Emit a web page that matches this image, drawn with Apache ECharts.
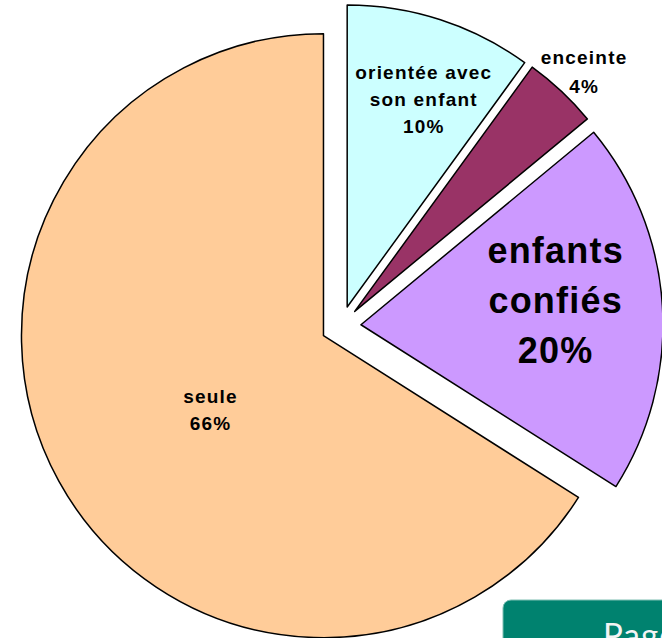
<!DOCTYPE html>
<html>
<head>
<meta charset="utf-8">
<script src="https://cdn.jsdelivr.net/npm/echarts@6/dist/echarts.min.js"></script>
<style>
  html, body { margin: 0; padding: 0; background: #ffffff; }
  #chart { width: 662px; height: 638px; }
  #chart svg text { letter-spacing: 1.2px; }
</style>
</head>
<body>
<div id="chart"></div>
<script>
// Slices, clockwise from 12 o'clock
const categories = ['orientée avec\nson enfant', 'enceinte', 'enfants\nconfiés', 'seule'];
const values = [10, 4, 20, 66];

// styles (not data)
const colors = ['#CCFFFF', '#993366', '#CC99FF', '#FFCC99'];
const labelSizes = [19, 19, 36, 19];
const labelLineHeights = [27, 29, 50, 27];
const labelShift = [[29, -61], [124, -127], [41, -15], [22, 0]];

const chart = echarts.init(document.getElementById('chart'), null, { renderer: 'svg' });

const data = categories.map((name, i) => ({
  name: name,
  value: values[i],
  selected: true,
  itemStyle: { color: colors[i] },
  label: {
    fontSize: labelSizes[i],
    lineHeight: labelLineHeights[i]
  }
}));

chart.setOption({
  animation: false,
  backgroundColor: '#ffffff',
  series: [{
    type: 'pie',
    center: [341, 326],
    radius: [0, 302],
    startAngle: 90,
    clockwise: true,
    selectedMode: 'multiple',
    selectedOffset: 20,
    avoidLabelOverlap: false,
    emphasis: { disabled: true },
    select: { itemStyle: { borderColor: '#000000', borderWidth: 1.5 } },
    itemStyle: { borderColor: '#000000', borderWidth: 1.5 },
    label: {
      show: true,
      position: 'inside',
      formatter: '{b}\n{d}%',
      color: '#000000',
      fontFamily: 'Liberation Sans, Arial, sans-serif',
      fontWeight: 'bold',
      align: 'center'
    },
    labelLine: { show: false },
    labelLayout: function (p) {
      const s = labelShift[p.dataIndex];
      return { dx: s[0], dy: s[1] };
    },
    data: data
  }],
  graphic: [
    {
      type: 'rect',
      shape: { x: 503, y: 600, width: 220, height: 80, r: 8 },
      style: { fill: '#00826F', stroke: '#7fbfb3', lineWidth: 1 },
      z: 100
    },
    {
      type: 'text',
      x: 603,
      y: 617,
      style: {
        text: 'Page',
        fill: '#f4f4f4',
        font: '33px Lato, "Open Sans", sans-serif',
        textVerticalAlign: 'top'
      },
      z: 101
    }
  ]
});
</script>
</body>
</html>
